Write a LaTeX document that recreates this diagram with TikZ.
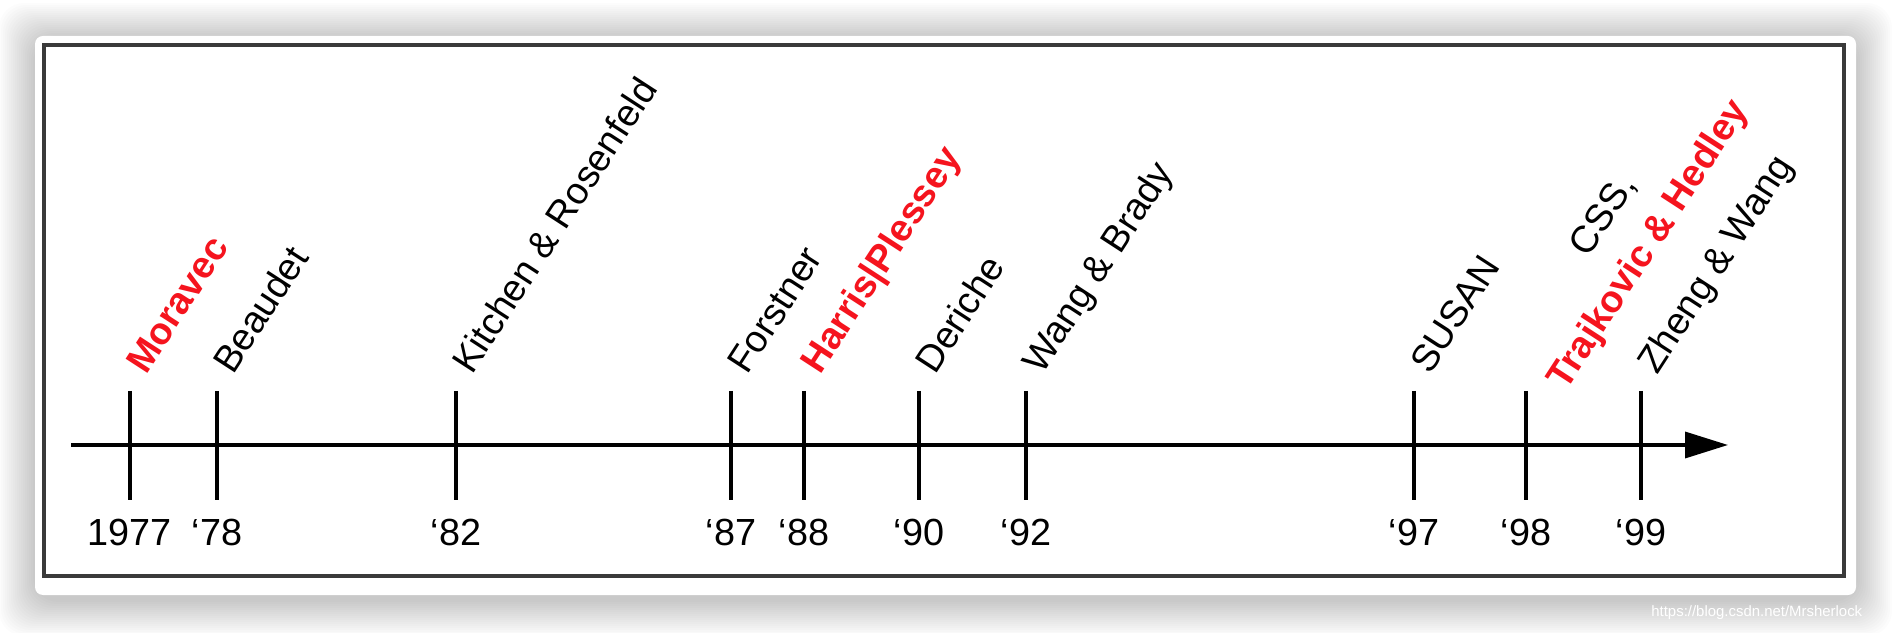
\documentclass[tikz,border=0pt]{standalone}
\usepackage{fontspec}
\setmainfont{Liberation Sans}
\usetikzlibrary{arrows.meta}
\definecolor{keyred}{RGB}{245,20,30}
\definecolor{framegray}{RGB}{58,58,58}

\begin{document}
\begin{tikzpicture}[x=0.02cm,y=0.02cm,
    year/.style={anchor=base,inner sep=0pt,font=\fontsize{21.5}{26}\selectfont},
    who/.style={anchor=base west,inner sep=0pt,rotate=57,font=\fontsize{21.5}{26}\selectfont},
    plain/.style={},
    key/.style={text=keyred,font=\fontsize{21.5}{26}\selectfont\bfseries}]
  \useasboundingbox (0,0) rectangle (1892,632);
  % card with a soft shadow
  \fill[white] (0,0) rectangle (1892,632);
  \foreach \s in {2,4,...,36}
    \fill[black,opacity=0.012,rounded corners=0.5cm] (35-\s,32-\s) rectangle (1856+\s,593+\s);
  \fill[white,rounded corners=0.16cm] (35,37) rectangle (1856,596);
  \draw[framegray,line width=0.08cm] (44,56) rectangle (1843.5,586.5);

  % time axis
  \coordinate (start) at (71,187);
  \coordinate (end) at (1728,187);
  \draw[line width=0.07cm,-{Triangle[length=0.86cm,width=0.52cm]}] (start) -- (end);

  % ticks and years
  \foreach \x/\yr [count=\i] in {130/1977, 217/‘78, 456/‘82, 731/‘87, 804/‘88,
      919/‘90, 1026/‘92, 1414/‘97, 1526/‘98, 1641/‘99} {
    \coordinate (top\i) at (\x,241);
    \coordinate (bot\i) at (\x,132);
    \draw[line width=0.07cm] (top\i) -- (bot\i);
    \node[year] (yr\i) at (\x,87) {\yr};
  }

  % detectors
  \foreach \x/\who/\sty [count=\i] in {130/Moravec/key, 217/Beaudet/plain,
      456/Kitchen \& Rosenfeld/plain, 731/Forstner/plain, 804/Harris|Plessey/key,
      919/Deriche/plain, 1026/Wang \& Brady/plain, 1414/SUSAN/plain, 1641/Zheng \& Wang/plain}
    \node[who,\sty] (who\i) at (\x+16,256) {\who};
  \node[who,anchor=south west,align=center,font=\fontsize{21.5}{30.5}\selectfont] (who98)
    at (1573,236) {CSS,\\\textcolor{keyred}{\bfseries Trajkovic \& Hedley}};

  \node[anchor=west,inner sep=0pt,text=white,font=\fontsize{8.5}{10}\selectfont] (mark)
    at (1651,19) {https://blog.csdn.net/Mrsherlock};
\end{tikzpicture}
\end{document}
